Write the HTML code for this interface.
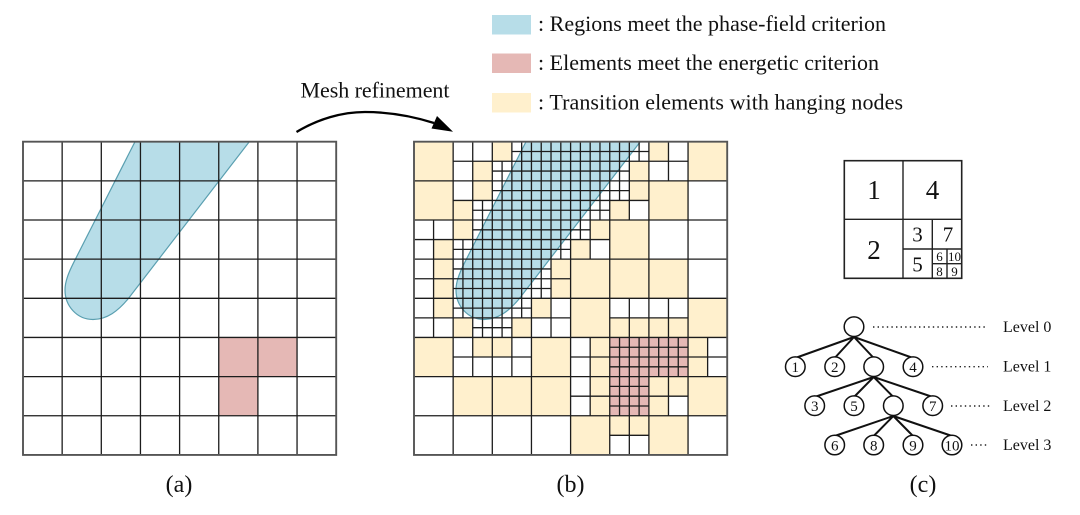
<!DOCTYPE html>
<html><head><meta charset="utf-8"><style>
html,body{margin:0;padding:0;background:#fff}
svg{display:block}
text{font-family:"Liberation Serif",serif;fill:#111}
.m{font-size:22px}.l{font-size:16px}.n{font-size:15px;text-anchor:middle}
.c{font-size:24px;text-anchor:middle}
.g path{vector-effect:non-scaling-stroke;fill:none;stroke:#1c1c1c;stroke-width:1.3}
.o path{vector-effect:non-scaling-stroke;fill:none;stroke:#555;stroke-width:1.9}
.f path{stroke:none}
</style></head><body>
<svg width="1080" height="515" viewBox="0 0 1080 515" xmlns="http://www.w3.org/2000/svg">
<rect width="1080" height="515" fill="#fff"/>
<!-- legend -->
<rect x="492" y="15" width="39" height="19.5" fill="#b7dde8"/>
<rect x="492" y="53.5" width="39" height="19.5" fill="#e5b8b5"/>
<rect x="492" y="93" width="39" height="19.5" fill="#fff0cd"/>
<text class="m" x="538" y="31" textLength="348" lengthAdjust="spacing">: Regions meet the phase-field criterion</text>
<text class="m" x="538" y="70" textLength="341" lengthAdjust="spacing">: Elements meet the energetic criterion</text>
<text class="m" x="538" y="109.5" textLength="365" lengthAdjust="spacing">: Transition elements with hanging nodes</text>
<text class="m" x="300.5" y="97.5" textLength="149" lengthAdjust="spacing">Mesh refinement</text>
<!-- arrow -->
<path d="M296.5 132 C318 119 342 112 365 112 C390 112 412 116 434 123" fill="none" stroke="#000" stroke-width="2.3"/>
<path d="M453 131.7 L431.5 128.5 L437 116 Z" fill="#000"/>

<!-- grid a -->
<path d="M135 141.7 L249.3 141.7 L128 299 C118 311 107 319.5 93 319.5 C77 319.5 65 306 65 290 C65 281 69 272 73.3 263.3 Z" fill="#b7dde8" stroke="#5a9fb0" stroke-width="1.2"/>
<g transform="translate(23,141.7) scale(9.7875)">
<g class="f"><path fill="#e5b8b5" d="M20 20h8v4h-8z M20 24h4v4h-4z"/></g>
<g class="g"><path d="M4 0V32M8 0V32M12 0V32M16 0V32M20 0V32M24 0V32M28 0V32M0 4H32M0 8H32M0 12H32M0 16H32M0 20H32M0 24H32M0 28H32"/></g>
<g class="o"><path d="M0 0H32V32H0Z"/></g>
</g>

<!-- grid b -->
<g transform="translate(414,141.7) scale(9.7875)">
<g class="f">
<path fill="#fff0cd" d="M0 0h4v4h-4zM0 4h4v4h-4zM28 0h4v4h-4zM24 4h4v4h-4zM20 8h4v4h-4zM16 12h4v4h-4zM20 12h4v4h-4zM24 12h4v4h-4zM16 16h4v4h-4zM28 16h4v4h-4zM0 20h4v4h-4zM12 20h4v4h-4zM4 24h4v4h-4zM8 24h4v4h-4zM12 24h4v4h-4zM28 24h4v4h-4zM16 28h4v4h-4zM24 28h4v4h-4z
M6 2h2v2h-2zM8 0h2v2h-2zM22 2h2v2h-2zM24 0h2v2h-2zM6 4h2v2h-2zM4 6h2v2h-2zM22 4h2v2h-2zM20 6h2v2h-2zM2 10h2v2h-2zM4 8h2v2h-2zM18 8h2v2h-2zM16 10h2v2h-2zM2 12h2v2h-2zM2 14h2v2h-2zM14 12h2v2h-2zM14 14h2v2h-2zM2 16h2v2h-2zM4 18h2v2h-2zM10 18h2v2h-2zM12 16h2v2h-2zM20 18h2v2h-2zM22 18h2v2h-2zM24 18h2v2h-2zM26 18h2v2h-2zM6 20h2v2h-2zM8 20h2v2h-2zM18 20h2v2h-2zM18 22h2v2h-2zM28 20h2v2h-2zM28 22h2v2h-2zM18 24h2v2h-2zM18 26h2v2h-2zM24 24h2v2h-2zM26 24h2v2h-2zM24 26h2v2h-2zM20 28h2v2h-2zM22 28h2v2h-2z"/>
<path fill="#e5b8b5" d="M20 20h8v4h-8z M20 24h4v4h-4z"/>
</g>
</g>
<path d="M526 141.7 L640.3 141.7 L519 299 C509 311 498 319.5 484 319.5 C468 319.5 456 306 456 290 C456 281 460 272 464.3 263.3 Z" fill="#b7dde8" stroke="#5a9fb0" stroke-width="1.2"/>
<g transform="translate(414,141.7) scale(9.7875)">
<g class="g">
<path d="M4 0V32M8 0V32M12 0V32M16 0V32M20 0V32M24 0V32M28 0V32M0 4H32M0 8H32M0 12H32M0 16H32M0 20H32M0 24H32M0 28H32"/>
<path d="M2 8V20M6 0V24M10 0V24M14 0V20M18 0V12M18 20V28M22 0V8M22 16V32M26 0V4M26 16V28M30 20V24
M4 2H28M4 6H24M0 10H20M0 14H16M0 18H16M20 18H28M4 22H12M16 22H32M16 26H28M20 30H24"/>
<path d="M5 10V18M7 6V20M9 2V20M11 0V18M13 0V16M15 0V12M17 0V10M19 0V8M21 0V6M21 20V28M23 0V2M23 20V28M25 20V24M27 20V24
M10 1H24M8 3H22M8 5H22M6 7H20M6 9H18M4 11H16M4 13H14M4 15H14M4 17H12M6 19H10M20 21H28M20 23H28M20 25H24M20 27H24"/>
</g>
<g class="o"><path d="M0 0H32V32H0Z"/></g>
</g>

<!-- quadtree c -->
<g fill="none" stroke="#222" stroke-width="1.4">
<rect x="844.3" y="160.7" width="117.4" height="117.6" stroke-width="1.6"/>
<path d="M903 160.7V278.3M844.3 219.3H961.7M932.3 219.3V278.3M903 249H961.7M947 249V278.3M932.3 263.7H961.7"/>
</g>
<text class="c" style="font-size:27px" x="874" y="199">1</text>
<text class="c" style="font-size:27px" x="932.5" y="199">4</text>
<text class="c" style="font-size:27px" x="874" y="259">2</text>
<text class="c" style="font-size:21px" x="917.5" y="241.5">3</text>
<text class="c" style="font-size:21px" x="948" y="241.5">7</text>
<text class="c" style="font-size:21px" x="917.5" y="271.5">5</text>
<text class="c" style="font-size:13px" x="939.5" y="261">6</text>
<text class="c" style="font-size:13px" x="954.5" y="261">10</text>
<text class="c" style="font-size:13px" x="939.5" y="276">8</text>
<text class="c" style="font-size:13px" x="954.5" y="276">9</text>

<!-- tree -->
<g stroke="#111" stroke-width="2" fill="none">
<path d="M854 337L795.3 358M854 337L834.7 358M854 337L873.7 358M854 337L913 358
M873.7 377L814.7 397M873.7 377L854 397M873.7 377L893.3 397M873.7 377L932.7 397
M893.3 416L834.7 436M893.3 416L873.7 436M893.3 416L913 436M893.3 416L952 436"/>
</g>
<g fill="#fff" stroke="#111" stroke-width="1.5">
<circle cx="854" cy="326.7" r="9.8"/>
<circle cx="795.3" cy="366.7" r="9.8"/><circle cx="834.7" cy="366.7" r="9.8"/><circle cx="873.7" cy="366.7" r="9.8"/><circle cx="913" cy="366.7" r="9.8"/>
<circle cx="814.7" cy="405.7" r="9.8"/><circle cx="854" cy="405.7" r="9.8"/><circle cx="893.3" cy="405.7" r="9.8"/><circle cx="932.7" cy="405.7" r="9.8"/>
<circle cx="834.7" cy="445" r="9.8"/><circle cx="873.7" cy="445" r="9.8"/><circle cx="913" cy="445" r="9.8"/><circle cx="952" cy="445" r="9.8"/>
</g>
<text class="n" x="795.3" y="372">1</text><text class="n" x="834.7" y="372">2</text><text class="n" x="913" y="372">4</text>
<text class="n" x="814.7" y="411">3</text><text class="n" x="854" y="411">5</text><text class="n" x="932.7" y="411">7</text>
<text class="n" x="834.7" y="450.5">6</text><text class="n" x="873.7" y="450.5">8</text><text class="n" x="913" y="450.5">9</text><text class="n" x="952" y="450.5">10</text>
<g stroke="#222" stroke-width="1.4" stroke-dasharray="1.4 3.2" fill="none">
<path d="M873 327H988M932 366.7H988M951 406H991M971 445H989"/>
</g>
<text class="l" x="1003" y="332">Level 0</text>
<text class="l" x="1003" y="371.5">Level 1</text>
<text class="l" x="1003" y="411">Level 2</text>
<text class="l" x="1003" y="450">Level 3</text>

<text class="c" x="179" y="492">(a)</text>
<text class="c" x="570.5" y="492">(b)</text>
<text class="c" x="923" y="492">(c)</text>
</svg>
</body></html>
